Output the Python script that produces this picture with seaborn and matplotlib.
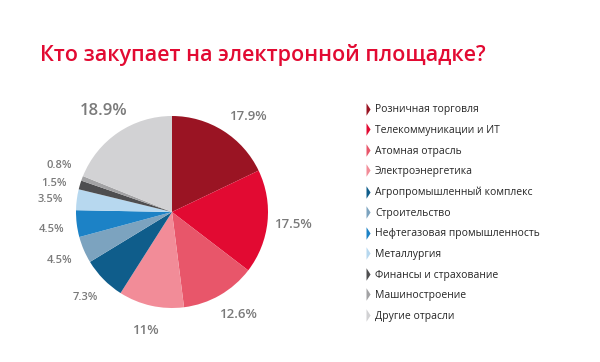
import numpy as np
import matplotlib
matplotlib.use('Agg')
import matplotlib.pyplot as plt
from matplotlib.lines import Line2D
from matplotlib.path import Path
import seaborn as sns

# Данные
sectors = ['Розничная торговля', 'Телекоммуникации и ИТ', 'Атомная отрасль',
           'Электроэнергетика', 'Агропромышленный комплекс', 'Строительство',
           'Нефтегазовая промышленность', 'Металлургия', 'Финансы и страхование',
           'Машиностроение', 'Другие отрасли']
shares = [17.9, 17.5, 12.6, 11, 7.3, 4.5, 4.5, 3.5, 1.5, 0.8, 18.9]
share_labels = ['17.9%', '17.5%', '12.6%', '11%', '7.3%', '4.5%', '4.5%',
                '3.5%', '1.5%', '0.8%', '18.9%']
colors = ['#9a1423', '#e20a32', '#e8566a', '#f28c98', '#0f5d8b', '#7ca3bf',
          '#1c82c6', '#b7d8ef', '#4e4e50', '#a2a2a4', '#d2d2d4']
label_sizes = [9.5, 9.5, 9.5, 9.5, 8, 8, 8, 8, 8, 8, 12]
# небольшой сдвиг подписей по углу (градусы), чтобы мелкие не слипались
label_nudge = [-6, 0, 3, 0, 0, 0, 1, 1.5, 3, -2, 0]

sns.set_theme(style='white')
plt.rcParams['font.family'] = ['Open Sans', 'DejaVu Sans']

fig = plt.figure(figsize=(6, 3.62), dpi=100)
fig.patch.set_facecolor('white')

fig.text(40 / 600, 1 - 55 / 362, 'Кто закупает на электронной площадке?',
         color='#e20a32', fontsize=15.5, fontweight='semibold',
         ha='left', va='center')

ax = fig.add_axes([28 / 600, 6 / 362, 288 / 600, 288 / 362])
wedges, texts = ax.pie(shares, labels=share_labels, colors=colors,
                       startangle=90, counterclock=False, labeldistance=1.26,
                       wedgeprops=dict(linewidth=0),
                       textprops=dict(color='#7a7a7a', fontweight='semibold'))
for w, t, s, d in zip(wedges, texts, label_sizes, label_nudge):
    ang = np.deg2rad((w.theta1 + w.theta2) / 2 + d)
    t.set_position((1.27 * np.cos(ang), 1.27 * np.sin(ang)))
    t.set_ha('center')
    t.set_va('center')
    t.set_fontsize(s)
ax.set_xlim(-1.5, 1.5)
ax.set_ylim(-1.5, 1.5)
ax.set_aspect('equal')
ax.axis('off')

# маркеры легенды - узкие треугольники
tri = Path([(0, -1), (0.65, 0), (0, 1), (0, -1)],
           [Path.MOVETO, Path.LINETO, Path.LINETO, Path.CLOSEPOLY])
handles = [Line2D([], [], linestyle='none', marker=tri, markersize=9,
                  markerfacecolor=c, markeredgewidth=0) for c in colors]
fig.legend(handles, sectors, loc='upper left',
           bbox_to_anchor=(352 / 600, 1 - 95 / 362), frameon=False,
           labelspacing=0.92, handlelength=0.8,
           handletextpad=0.5, labelcolor='#262626',
           prop=dict(size=7.5))

plt.savefig('out.png', dpi=100)
